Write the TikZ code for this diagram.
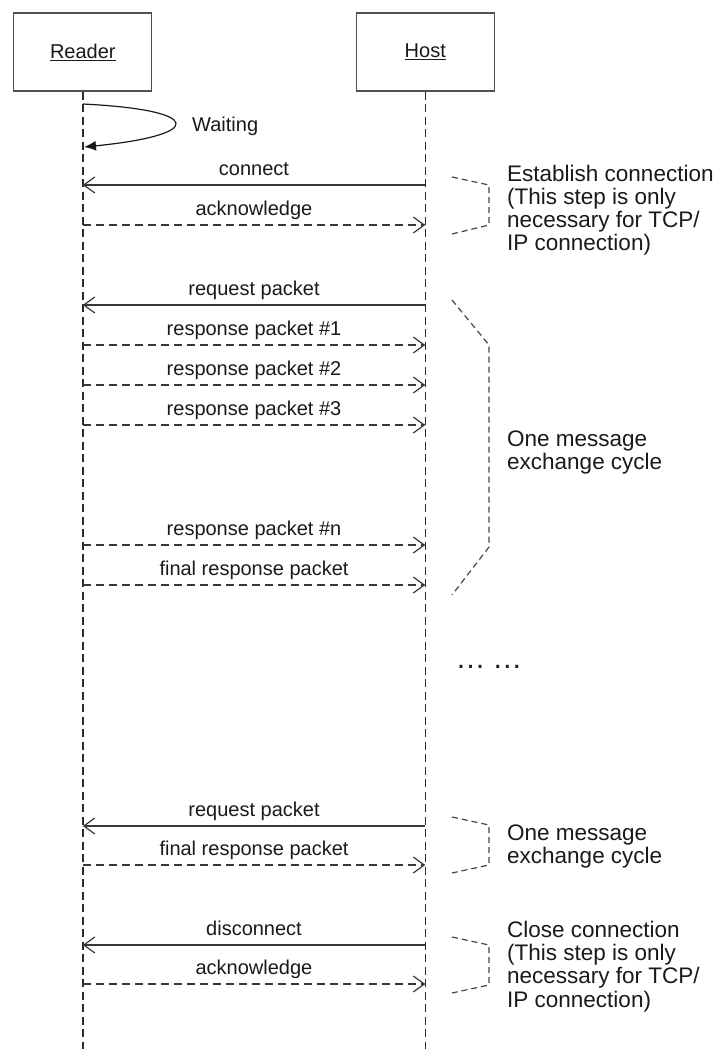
\documentclass[tikz,border=0pt]{standalone}
\usepackage{fontspec}
\setmainfont{Liberation Sans}
\usetikzlibrary{arrows.meta}
\definecolor{txt}{HTML}{1A1A1A}
\definecolor{boxgray}{HTML}{505050}
\definecolor{lifegray}{HTML}{2A2A2A}
\definecolor{msggray}{HTML}{383838}
\definecolor{bracegray}{HTML}{454545}
\begin{document}
\begin{tikzpicture}[x=1pt,y=-1pt,
  actor/.style={draw=boxgray, line width=1.2pt, minimum width=138pt, minimum height=78pt, inner sep=0pt, font=\fontsize{20}{23}\selectfont, text=txt},
  lifeline/.style={draw=lifegray, line width=1.5pt, dash pattern=on 8pt off 4.5pt},
  callmsg/.style={draw=msggray, line width=1.3pt, -{Straight Barb[length=11pt,width=16pt,line width=1.2pt]}},
  retmsg/.style={callmsg, dash pattern=on 8pt off 5pt},
  msglabel/.style={anchor=base, font=\fontsize{20}{23}\selectfont, text=txt, inner sep=0pt},
  note/.style={anchor=base west, font=\fontsize{22.5}{23}\selectfont, text=txt, inner sep=0pt},
  brace/.style={draw=bracegray, line width=1.2pt, dash pattern=on 6pt off 4pt}
]
\useasboundingbox[fill=white] (0,0) rectangle (721,1049);

% actors
\node[actor] (reader) at (82.8,52) {\underline{Reader}};
\node[actor] (host) at (425.3,52) {\underline{Host}};
\coordinate (rend) at (82.8,1049);
\coordinate (hend) at (425.3,1049);
\draw[lifeline] (reader.south) -- (rend);
\draw[lifeline] (host.south) -- (hend);

% waiting self-loop
\coordinate (w1) at (82.8,104);
\coordinate (w2) at (84,147);
\draw[draw=txt, line width=1.2pt, -{Latex[length=12pt,width=10pt]}] (w1) .. controls (205,110) and (205,135) .. (w2);
\node[anchor=base west, font=\fontsize{20}{23}\selectfont, text=txt, inner sep=0pt] (waiting) at (192,131) {Waiting};

% message coordinates
\foreach \n/\y in {1/185,2/225,3/305,4/345,5/385,6/425,7/545,8/585,9/826,10/865,11/945,12/984}{
  \coordinate (r\n) at (82.8,\y);
  \coordinate (h\n) at (425.3,\y);
}

\draw[callmsg] (h1) -- (r1);
\node[msglabel] (m1) at (254,175) {connect};
\draw[retmsg] (r2) -- (h2);
\node[msglabel] (m2) at (254,215) {acknowledge};
\draw[callmsg] (h3) -- (r3);
\node[msglabel] (m3) at (254,295) {request packet};
\draw[retmsg] (r4) -- (h4);
\node[msglabel] (m4) at (254,335) {response packet \#1};
\draw[retmsg] (r5) -- (h5);
\node[msglabel] (m5) at (254,375) {response packet \#2};
\draw[retmsg] (r6) -- (h6);
\node[msglabel] (m6) at (254,415) {response packet \#3};
\draw[retmsg] (r7) -- (h7);
\node[msglabel] (m7) at (254,535) {response packet \#n};
\draw[retmsg] (r8) -- (h8);
\node[msglabel] (m8) at (254,575) {final response packet};
\draw[callmsg] (h9) -- (r9);
\node[msglabel] (m9) at (254,816) {request packet};
\draw[retmsg] (r10) -- (h10);
\node[msglabel] (m10) at (254,855) {final response packet};
\draw[callmsg] (h11) -- (r11);
\node[msglabel] (m11) at (254,935) {disconnect};
\draw[retmsg] (r12) -- (h12);
\node[msglabel] (m12) at (254,974) {acknowledge};

% braces
\draw[brace] (452,177) -- (489,185) -- (489,225) -- (452,234);
\draw[brace] (452,300) -- (489,345) -- (489,547) -- (452,595);
\draw[brace] (452,817) -- (489,825) -- (489,865) -- (452,873);
\draw[brace] (452,937) -- (489,945) -- (489,985) -- (452,993);

% notes
\node[note] (n1a) at (507,181.5) {Establish connection};
\node[note] (n1b) at (507,204.5) {(This step is only};
\node[note] (n1c) at (507,227.5) {necessary for TCP/};
\node[note] (n1d) at (507,250.5) {IP connection)};

\node[note] (n2a) at (507,446) {One message};
\node[note] (n2b) at (507,469) {exchange cycle};

\node[anchor=base, font=\fontsize{30}{30}\selectfont, text=txt, inner sep=0pt] (dots) at (489,668) {…\hspace{7pt}…};

\node[note] (n3a) at (507,840) {One message};
\node[note] (n3b) at (507,863) {exchange cycle};

\node[note] (n4a) at (507,937) {Close connection};
\node[note] (n4b) at (507,960) {(This step is only};
\node[note] (n4c) at (507,983.5) {necessary for TCP/};
\node[note] (n4d) at (507,1007) {IP connection)};
\end{tikzpicture}
\end{document}
